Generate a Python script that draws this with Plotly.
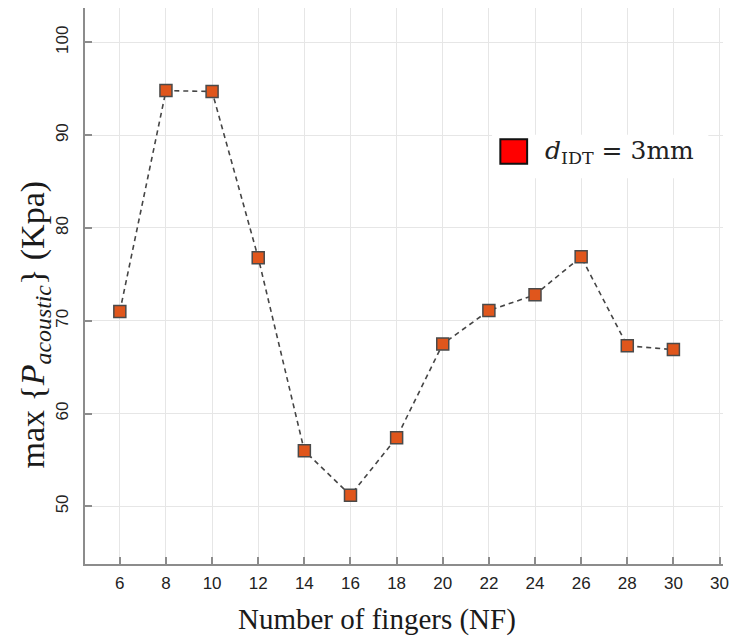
import plotly.graph_objects as go

# Number of interdigital fingers vs. peak acoustic pressure (d_IDT = 3 mm)
fingers = [6, 8, 10, 12, 14, 16, 18, 20, 22, 24, 26, 28, 30]
p_acoustic = [71.0, 94.8, 94.7, 76.8, 56.0, 51.2, 57.4, 67.5, 71.1, 72.8, 76.9, 67.3, 66.9]

x_tickvals = [6, 8, 10, 12, 14, 16, 18, 20, 22, 24, 26, 28, 30, 32]
x_ticktext = ["6", "8", "10", "12", "14", "16", "18", "20", "22", "24", "26", "28", "30", "30"]
y_tickvals = [50, 60, 70, 80, 90, 100]

legend_label = "<i>d</i><sub>IDT</sub> = 3mm"

SERIF = "Liberation Serif, DejaVu Serif, serif"
WIDE_SERIF = "DejaVu Serif, Liberation Serif, serif"
SANS = "Liberation Sans, Arial, sans-serif"

fig = go.Figure()
fig.add_trace(go.Scatter(
    x=fingers, y=p_acoustic, mode="lines+markers",
    line=dict(color="#454545", width=1.6, dash="5px,4px"),
    marker=dict(symbol="square", size=12, color="#E0561C",
                line=dict(color="#4a4a4a", width=1.5)),
    showlegend=False,
))

axis_common = dict(
    showline=True, linecolor="#8c8c8c", linewidth=2,
    showgrid=True, gridcolor="#e6e6e6", gridwidth=1,
    ticks="inside", ticklen=7, tickwidth=1.5, tickcolor="#8c8c8c",
    zeroline=False, mirror=False,
    tickfont=dict(family=SANS, size=17, color="#222222"),
)

fig.update_xaxes(range=[4.49, 32.15], tickmode="array",
                 tickvals=x_tickvals, ticktext=x_ticktext,
                 ticklabelstandoff=3, **axis_common)
fig.update_yaxes(range=[43.8, 103.7], tickmode="array",
                 tickvals=y_tickvals, tickangle=-90,
                 ticklabelstandoff=8, **axis_common)

# legend box
fig.add_shape(type="rect", xref="paper", yref="paper",
              x0=0.638, x1=0.977, y0=0.694, y1=0.772,
              fillcolor="white", line=dict(width=0), layer="above")
fig.add_shape(type="rect", xref="paper", yref="paper",
              x0=0.651, x1=0.693, y0=0.720, y1=0.764,
              fillcolor="#FF0000", line=dict(color="#111111", width=2), layer="above")
fig.add_annotation(xref="paper", yref="paper", x=0.7185, y=0.741,
                   xanchor="left", yanchor="middle", showarrow=False,
                   text=legend_label,
                   font=dict(family=WIDE_SERIF, size=25, color="#222222"))

# axis titles
fig.add_annotation(xref="paper", yref="paper", x=0.458, y=-0.10,
                   xanchor="center", yanchor="middle", showarrow=False,
                   text="Number of fingers (NF)",
                   font=dict(family=SERIF, size=29, color="#1a1a1a"))
fig.add_annotation(xref="paper", yref="paper", x=-0.079, y=0.43,
                   xanchor="center", yanchor="middle", showarrow=False,
                   textangle=-90,
                   text="max {<i>P</i><sub><i>acoustic</i></sub>} (Kpa)",
                   font=dict(family=SERIF, size=34, color="#1a1a1a"))

fig.update_layout(
    width=737, height=643,
    margin=dict(l=85, r=9, t=8, b=79),
    paper_bgcolor="white", plot_bgcolor="white",
    showlegend=False,
)

fig.write_html("out.html")
